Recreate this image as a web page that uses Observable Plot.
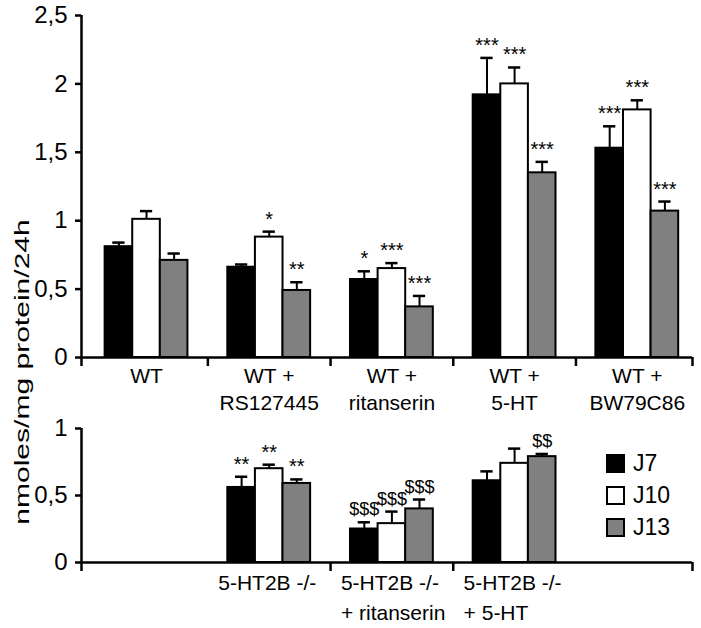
<!DOCTYPE html>
<html><head><meta charset="utf-8">
<script src="https://cdn.jsdelivr.net/npm/d3@7"></script>
<script src="https://cdn.jsdelivr.net/npm/@observablehq/plot@0.6"></script>
<style>
body{margin:0;background:#fff;}
#wrap{position:relative;width:701px;height:628px;font-family:"Liberation Sans",Arial,Helvetica,sans-serif;}
#wrap svg{display:block;}
#ylabel{position:absolute;left:21px;top:372px;transform:translate(-50%,-50%) rotate(-90deg) scaleX(1.43);white-space:nowrap;font-size:21px;color:#000;line-height:1;}
#legend{position:absolute;left:607px;top:447px;}
.lg-swatches{font-family:"Liberation Sans",Arial,Helvetica,sans-serif !important;font-size:23px !important;margin:0 !important;min-height:0 !important;}
.lg-swatch{display:flex !important;align-items:center;height:32px;margin:0 !important;padding:0 !important;color:#000;}
.lg-swatch svg{overflow:visible;margin-right:9px !important;}
.lg-swatch svg rect{stroke:#000;stroke-width:2;}
</style></head><body><div id="wrap"></div>
<script>
const series = ["J7", "J10", "J13"];
const seriesColors = ["#000000", "#ffffff", "#808080"];

// top panel
const topGroups = ["WT", "WT +\nRS127445", "WT +\nritanserin", "WT +\n5-HT", "WT +\nBW79C86"];
const topJ7 = [0.81, 0.66, 0.57, 1.92, 1.53];
const topJ10 = [1.01, 0.88, 0.65, 2.00, 1.81];
const topJ13 = [0.71, 0.49, 0.37, 1.35, 1.07];
const topErrJ7 = [0.03, 0.02, 0.06, 0.27, 0.16];
const topErrJ10 = [0.06, 0.04, 0.04, 0.12, 0.07];
const topErrJ13 = [0.05, 0.06, 0.08, 0.08, 0.07];
const topSigJ7 = ["", "", "*", "***", "***"];
const topSigJ10 = ["", "*", "***", "***", "***"];
const topSigJ13 = ["", "**", "***", "***", "***"];
const topYTicks = [0, 0.5, 1, 1.5, 2, 2.5];

// bottom panel (empty slots keep alignment with the top panel)
const bottomGroups = ["", "5-HT2B -/-", "5-HT2B -/-\n+ ritanserin", "5-HT2B -/-\n+ 5-HT", ""];
const bottomJ7 = [null, 0.56, 0.25, 0.61, null];
const bottomJ10 = [null, 0.70, 0.29, 0.74, null];
const bottomJ13 = [null, 0.59, 0.40, 0.79, null];
const bottomErrJ7 = [null, 0.08, 0.05, 0.07, null];
const bottomErrJ10 = [null, 0.03, 0.09, 0.11, null];
const bottomErrJ13 = [null, 0.03, 0.07, 0.02, null];
const bottomSigJ7 = ["", "**", "$$$", "", ""];
const bottomSigJ10 = ["", "**", "$$$", "", ""];
const bottomSigJ13 = ["", "**", "$$$", "$$", ""];
const bottomYTicks = [0, 0.5, 1];

const yLabel = "nmoles/mg protein/24h";

const xDomain = [-0.53, 4.45];
const topBoundaries = [xDomain[0], 0.5, 1.5, 2.5, 3.5, xDomain[1]];
const bottomBoundaries = [xDomain[0], 1.5, 2.5, xDomain[1]];
const barW = 0.225, capHalf = 0.05;
const fontFamily = '"Liberation Sans", Arial, Helvetica, sans-serif';
const fmt = d => String(d).replace(".", ",");

function rows(groups, vals, errs, sigs) {
  const out = [];
  groups.forEach((g, i) => series.forEach((s, j) => {
    const v = vals[j][i];
    if (v == null) return;
    const c = i + (j - 1) * barW;
    out.push({group: i, series: s, value: v, top: v + errs[j][i], sig: sigs[j][i],
              x1: c - barW / 2, x2: c + barW / 2, xc: c});
  }));
  return out;
}
const topRows = rows(topGroups, [topJ7, topJ10, topJ13], [topErrJ7, topErrJ10, topErrJ13], [topSigJ7, topSigJ10, topSigJ13]);
const bottomRows = rows(bottomGroups, [bottomJ7, bottomJ10, bottomJ13], [bottomErrJ7, bottomErrJ10, bottomErrJ13], [bottomSigJ7, bottomSigJ10, bottomSigJ13]);

function barMarks(data) {
  return [
    Plot.rectY(data, {x1: "x1", x2: "x2", y1: 0, y2: "value", fill: "series", stroke: "#000", strokeWidth: 2}),
    Plot.ruleX(data, {x: "xc", y1: "value", y2: "top", stroke: "#000", strokeWidth: 2}),
    Plot.ruleY(data, {y: "top", x1: d => d.xc - capHalf, x2: d => d.xc + capHalf, stroke: "#000", strokeWidth: 2.5}),
    Plot.text(data.filter(d => d.sig && d.sig[0] === "*"), {x: "xc", y: "top", text: "sig", lineAnchor: "bottom", dy: -6, fontSize: 20, fill: "#000"}),
    Plot.text(data.filter(d => d.sig && d.sig[0] === "$"), {x: "xc", y: "top", text: "sig", lineAnchor: "bottom", dy: -7, fontSize: 18, fill: "#000"})
  ];
}

const topPlot = Plot.plot({
  width: 701, height: 410, marginLeft: 81, marginRight: 9, marginTop: 15, marginBottom: 53,
  style: {fontFamily, fontSize: "24px", color: "#000", background: "#fff", overflow: "visible"},
  x: {domain: xDomain, axis: null},
  y: {domain: [0, 2.5], axis: null},
  color: {domain: series, range: seriesColors},
  marks: [
    ...barMarks(topRows),
    Plot.ruleY([0], {stroke: "#000", strokeWidth: 2.5}),
    Plot.ruleX([xDomain[0]], {stroke: "#000", strokeWidth: 2.5}),
    Plot.axisY({ticks: topYTicks, tickFormat: fmt, tickSize: 6, tickPadding: 8, strokeWidth: 2.5, label: null, fontSize: 24}),
    Plot.axisX({ticks: topBoundaries, tickFormat: () => "", tickSize: 9, strokeWidth: 2.5, label: null}),
    Plot.text(topGroups, {x: (d, i) => i, text: d => d, frameAnchor: "bottom", lineAnchor: "top", dy: 7, lineHeight: 1.27, fontSize: 21, fill: "#000"})
  ]
});

const bottomPlot = Plot.plot({
  width: 701, height: 218, marginLeft: 81, marginRight: 9, marginTop: 18, marginBottom: 66,
  style: {fontFamily, fontSize: "24px", color: "#000", background: "#fff", overflow: "visible"},
  x: {domain: xDomain, axis: null},
  y: {domain: [0, 1], axis: null},
  color: {domain: series, range: seriesColors},
  marks: [
    ...barMarks(bottomRows),
    Plot.ruleY([0], {stroke: "#000", strokeWidth: 2.5}),
    Plot.ruleX([xDomain[0]], {stroke: "#000", strokeWidth: 2.5}),
    Plot.axisY({ticks: bottomYTicks, tickFormat: fmt, tickSize: 6, tickPadding: 8, strokeWidth: 2.5, label: null, fontSize: 24}),
    Plot.axisX({ticks: bottomBoundaries, tickFormat: () => "", tickSize: 9, strokeWidth: 2.5, label: null}),
    Plot.text(bottomGroups.map((g, i) => ({g, i})).filter(d => d.g), {x: "i", text: "g", frameAnchor: "bottom", lineAnchor: "top", textAnchor: "start", dx: -51, dy: 7, lineHeight: 1.4, fontSize: 21, fill: "#000"})
  ]
});

const wrap = document.getElementById("wrap");
wrap.appendChild(topPlot);
wrap.appendChild(bottomPlot);

const yl = document.createElement("div");
yl.id = "ylabel";
yl.textContent = yLabel;
wrap.appendChild(yl);

const legend = Plot.legend({color: {domain: series, range: seriesColors}, legend: "swatches", columns: 1, swatchSize: 17, className: "lg"});
const lw = document.createElement("div");
lw.id = "legend";
lw.appendChild(legend);
wrap.appendChild(lw);
</script></body></html>
